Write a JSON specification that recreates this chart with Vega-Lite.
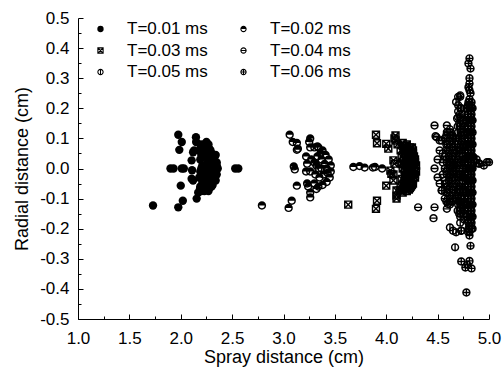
{
  "$schema": "https://vega.github.io/schema/vega-lite/v6.json",
  "width": 411,
  "height": 301,
  "autosize": "none",
  "padding": {"left": 78, "top": 18, "right": 14, "bottom": 49},
  "background": "white",
  "config": {"font": "Liberation Sans", "view": {"stroke": null}},
  "data": {"values": [
    {"T": 0.01, "x": 1.73, "y": -0.123}, {"T": 0.01, "x": 1.90, "y": 0.0}, {"T": 0.01, "x": 1.93, "y": 0.0},
    {"T": 0.01, "x": 1.976, "y": 0.112}, {"T": 0.01, "x": 2.01, "y": 0.088}, {"T": 0.01, "x": 1.986, "y": 0.062},
    {"T": 0.01, "x": 2.01, "y": 0.0}, {"T": 0.01, "x": 2.03, "y": 0.0}, {"T": 0.01, "x": 2.0, "y": -0.057},
    {"T": 0.01, "x": 2.02, "y": -0.107}, {"T": 0.01, "x": 1.976, "y": -0.129}, {"T": 0.01, "x": 2.148, "y": 0.104},
    {"T": 0.01, "x": 2.15, "y": 0.088}, {"T": 0.01, "x": 2.12, "y": 0.054}, {"T": 0.01, "x": 2.13, "y": 0.06},
    {"T": 0.01, "x": 2.106, "y": 0.027}, {"T": 0.01, "x": 2.11, "y": -0.006}, {"T": 0.01, "x": 2.106, "y": -0.034},
    {"T": 0.01, "x": 2.12, "y": -0.04}, {"T": 0.01, "x": 2.187, "y": -0.068}, {"T": 0.01, "x": 2.17, "y": -0.08},
    {"T": 0.01, "x": 2.155, "y": -0.10}, {"T": 0.01, "x": 2.53, "y": 0.0}, {"T": 0.01, "x": 2.56, "y": 0.0},
    {"T": 0.01, "x": 2.25, "y": 0.088},
    {"T": 0.01, "x": 2.20, "y": 0.07}, {"T": 0.01, "x": 2.24, "y": 0.075}, {"T": 0.01, "x": 2.28, "y": 0.065},
    {"T": 0.01, "x": 2.30, "y": 0.05}, {"T": 0.01, "x": 2.33, "y": 0.04}, {"T": 0.01, "x": 2.35, "y": 0.02},
    {"T": 0.01, "x": 2.36, "y": 0.0}, {"T": 0.01, "x": 2.35, "y": -0.02}, {"T": 0.01, "x": 2.34, "y": -0.04},
    {"T": 0.01, "x": 2.31, "y": -0.055}, {"T": 0.01, "x": 2.28, "y": -0.065}, {"T": 0.01, "x": 2.25, "y": -0.07},
    {"T": 0.01, "x": 2.22, "y": -0.06}, {"T": 0.01, "x": 2.22, "y": 0.05}, {"T": 0.01, "x": 2.25, "y": 0.04},
    {"T": 0.01, "x": 2.28, "y": 0.03}, {"T": 0.01, "x": 2.31, "y": 0.02}, {"T": 0.01, "x": 2.33, "y": 0.0},
    {"T": 0.01, "x": 2.31, "y": -0.02}, {"T": 0.01, "x": 2.28, "y": -0.03}, {"T": 0.01, "x": 2.25, "y": -0.04},
    {"T": 0.01, "x": 2.22, "y": -0.02}, {"T": 0.01, "x": 2.20, "y": 0.0}, {"T": 0.01, "x": 2.24, "y": 0.0},
    {"T": 0.01, "x": 2.27, "y": 0.0}, {"T": 0.01, "x": 2.30, "y": 0.0}, {"T": 0.01, "x": 2.19, "y": 0.03},
    {"T": 0.01, "x": 2.18, "y": -0.03}, {"T": 0.01, "x": 2.26, "y": 0.02}, {"T": 0.01, "x": 2.29, "y": -0.01},
    {"T": 0.01, "x": 2.23, "y": -0.05}, {"T": 0.01, "x": 2.32, "y": 0.03}, {"T": 0.01, "x": 2.32, "y": -0.03},
    {"T": 0.01, "x": 2.19, "y": 0.08}, {"T": 0.01, "x": 2.22, "y": 0.08}, {"T": 0.01, "x": 2.27, "y": 0.08},
    {"T": 0.01, "x": 2.18, "y": 0.06}, {"T": 0.01, "x": 2.21, "y": 0.06}, {"T": 0.01, "x": 2.26, "y": 0.06},
    {"T": 0.01, "x": 2.29, "y": 0.06}, {"T": 0.01, "x": 2.20, "y": 0.045}, {"T": 0.01, "x": 2.27, "y": 0.045},
    {"T": 0.01, "x": 2.34, "y": 0.045}, {"T": 0.01, "x": 2.21, "y": 0.01}, {"T": 0.01, "x": 2.26, "y": 0.01},
    {"T": 0.01, "x": 2.32, "y": 0.01}, {"T": 0.01, "x": 2.35, "y": 0.01}, {"T": 0.01, "x": 2.19, "y": -0.01},
    {"T": 0.01, "x": 2.23, "y": -0.01}, {"T": 0.01, "x": 2.33, "y": -0.01}, {"T": 0.01, "x": 2.21, "y": -0.045},
    {"T": 0.01, "x": 2.27, "y": -0.045}, {"T": 0.01, "x": 2.30, "y": -0.045}, {"T": 0.01, "x": 2.19, "y": -0.06},
    {"T": 0.01, "x": 2.26, "y": -0.06}, {"T": 0.01, "x": 2.30, "y": -0.06}, {"T": 0.01, "x": 2.20, "y": -0.075},
    {"T": 0.01, "x": 2.23, "y": -0.075}, {"T": 0.01, "x": 2.27, "y": -0.075},

    {"T": 0.02, "x": 2.79, "y": -0.123}, {"T": 0.02, "x": 3.06, "y": 0.112}, {"T": 0.02, "x": 3.09, "y": 0.088},
    {"T": 0.02, "x": 3.13, "y": 0.085}, {"T": 0.02, "x": 3.13, "y": 0.062}, {"T": 0.02, "x": 3.14, "y": 0.066},
    {"T": 0.02, "x": 3.10, "y": 0.007}, {"T": 0.02, "x": 3.11, "y": -0.003}, {"T": 0.02, "x": 3.13, "y": -0.057},
    {"T": 0.02, "x": 3.08, "y": -0.107}, {"T": 0.02, "x": 3.05, "y": -0.131}, {"T": 0.02, "x": 3.26, "y": 0.10},
    {"T": 0.02, "x": 3.25, "y": 0.088}, {"T": 0.02, "x": 3.26, "y": 0.07}, {"T": 0.02, "x": 3.22, "y": 0.04},
    {"T": 0.02, "x": 3.27, "y": 0.03}, {"T": 0.02, "x": 3.23, "y": 0.016}, {"T": 0.02, "x": 3.22, "y": -0.01},
    {"T": 0.02, "x": 3.26, "y": -0.01}, {"T": 0.02, "x": 3.23, "y": -0.05}, {"T": 0.02, "x": 3.24, "y": -0.06},
    {"T": 0.02, "x": 3.26, "y": -0.08}, {"T": 0.02, "x": 3.26, "y": -0.096}, {"T": 0.02, "x": 3.32, "y": -0.068},
    {"T": 0.02, "x": 3.32, "y": 0.01}, {"T": 0.02, "x": 3.33, "y": 0.073}, {"T": 0.02, "x": 3.68, "y": 0.005},
    {"T": 0.02, "x": 3.74, "y": 0.008}, {"T": 0.02, "x": 3.79, "y": 0.003}, {"T": 0.02, "x": 3.87, "y": 0.003},
    {"T": 0.02, "x": 3.89, "y": 0.005}, {"T": 0.02, "x": 3.96, "y": 0.0},
    {"T": 0.02, "x": 3.30, "y": 0.07}, {"T": 0.02, "x": 3.34, "y": 0.07}, {"T": 0.02, "x": 3.38, "y": 0.06},
    {"T": 0.02, "x": 3.41, "y": 0.045}, {"T": 0.02, "x": 3.44, "y": 0.03}, {"T": 0.02, "x": 3.46, "y": 0.01},
    {"T": 0.02, "x": 3.46, "y": -0.01}, {"T": 0.02, "x": 3.45, "y": -0.03}, {"T": 0.02, "x": 3.42, "y": -0.045},
    {"T": 0.02, "x": 3.38, "y": -0.055}, {"T": 0.02, "x": 3.34, "y": -0.06}, {"T": 0.02, "x": 3.30, "y": -0.05},
    {"T": 0.02, "x": 3.33, "y": 0.04}, {"T": 0.02, "x": 3.37, "y": 0.03}, {"T": 0.02, "x": 3.40, "y": 0.015},
    {"T": 0.02, "x": 3.42, "y": 0.0}, {"T": 0.02, "x": 3.39, "y": -0.02}, {"T": 0.02, "x": 3.35, "y": -0.03},
    {"T": 0.02, "x": 3.31, "y": -0.02}, {"T": 0.02, "x": 3.30, "y": 0.02}, {"T": 0.02, "x": 3.34, "y": 0.0},
    {"T": 0.02, "x": 3.37, "y": 0.0}, {"T": 0.02, "x": 3.36, "y": 0.05}, {"T": 0.02, "x": 3.43, "y": -0.015},

    {"T": 0.03, "x": 3.63, "y": -0.12}, {"T": 0.03, "x": 3.90, "y": 0.112}, {"T": 0.03, "x": 3.91, "y": 0.084},
    {"T": 0.03, "x": 4.0, "y": 0.082}, {"T": 0.03, "x": 4.02, "y": 0.066}, {"T": 0.03, "x": 3.91, "y": -0.107},
    {"T": 0.03, "x": 3.90, "y": -0.134}, {"T": 0.03, "x": 4.0, "y": -0.057}, {"T": 0.03, "x": 4.04, "y": -0.007},
    {"T": 0.03, "x": 4.05, "y": -0.018}, {"T": 0.03, "x": 4.07, "y": 0.027}, {"T": 0.03, "x": 4.08, "y": 0.016},
    {"T": 0.03, "x": 4.07, "y": -0.02}, {"T": 0.03, "x": 4.07, "y": -0.04}, {"T": 0.03, "x": 4.10, "y": -0.073},
    {"T": 0.03, "x": 4.13, "y": -0.073}, {"T": 0.03, "x": 4.10, "y": -0.09}, {"T": 0.03, "x": 4.10, "y": -0.10},
    {"T": 0.03, "x": 4.09, "y": 0.11}, {"T": 0.03, "x": 4.09, "y": 0.093}, {"T": 0.03, "x": 4.08, "y": 0.10},
    {"T": 0.03, "x": 4.11, "y": 0.08},
    {"T": 0.03, "x": 4.16, "y": 0.085}, {"T": 0.03, "x": 4.20, "y": 0.08}, {"T": 0.03, "x": 4.23, "y": 0.07},
    {"T": 0.03, "x": 4.26, "y": 0.05}, {"T": 0.03, "x": 4.28, "y": 0.03}, {"T": 0.03, "x": 4.29, "y": 0.01},
    {"T": 0.03, "x": 4.29, "y": -0.01}, {"T": 0.03, "x": 4.28, "y": -0.03}, {"T": 0.03, "x": 4.26, "y": -0.05},
    {"T": 0.03, "x": 4.23, "y": -0.065}, {"T": 0.03, "x": 4.20, "y": -0.075}, {"T": 0.03, "x": 4.16, "y": -0.08},
    {"T": 0.03, "x": 4.18, "y": 0.05}, {"T": 0.03, "x": 4.21, "y": 0.04}, {"T": 0.03, "x": 4.24, "y": 0.02},
    {"T": 0.03, "x": 4.25, "y": 0.0}, {"T": 0.03, "x": 4.23, "y": -0.02}, {"T": 0.03, "x": 4.20, "y": -0.04},
    {"T": 0.03, "x": 4.17, "y": -0.05}, {"T": 0.03, "x": 4.16, "y": 0.0}, {"T": 0.03, "x": 4.19, "y": 0.01},
    {"T": 0.03, "x": 4.21, "y": -0.01}, {"T": 0.03, "x": 4.17, "y": 0.03}, {"T": 0.03, "x": 4.18, "y": -0.02},
    {"T": 0.03, "x": 4.14, "y": 0.06}, {"T": 0.03, "x": 4.14, "y": -0.06},
    {"T": 0.03, "x": 4.18, "y": 0.07}, {"T": 0.03, "x": 4.25, "y": 0.07}, {"T": 0.03, "x": 4.17, "y": 0.06},
    {"T": 0.03, "x": 4.22, "y": 0.06}, {"T": 0.03, "x": 4.26, "y": 0.06}, {"T": 0.03, "x": 4.15, "y": 0.04},
    {"T": 0.03, "x": 4.24, "y": 0.04}, {"T": 0.03, "x": 4.27, "y": 0.04}, {"T": 0.03, "x": 4.15, "y": 0.015},
    {"T": 0.03, "x": 4.22, "y": 0.015}, {"T": 0.03, "x": 4.27, "y": 0.015}, {"T": 0.03, "x": 4.18, "y": -0.005},
    {"T": 0.03, "x": 4.23, "y": -0.005}, {"T": 0.03, "x": 4.27, "y": -0.005}, {"T": 0.03, "x": 4.15, "y": -0.035},
    {"T": 0.03, "x": 4.22, "y": -0.035}, {"T": 0.03, "x": 4.26, "y": -0.035}, {"T": 0.03, "x": 4.18, "y": -0.06},
    {"T": 0.03, "x": 4.24, "y": -0.06}, {"T": 0.03, "x": 4.15, "y": -0.07}, {"T": 0.03, "x": 4.22, "y": -0.07},
    {"T": 0.03, "x": 4.20, "y": 0.06}, {"T": 0.03, "x": 4.20, "y": 0.02}, {"T": 0.03, "x": 4.20, "y": -0.02},
    {"T": 0.03, "x": 4.20, "y": -0.06}, {"T": 0.03, "x": 4.26, "y": 0.02}, {"T": 0.03, "x": 4.26, "y": -0.02},
    {"T": 0.03, "x": 4.24, "y": -0.045},
    {"T": 0.03, "x": 4.19, "y": 0.075}, {"T": 0.03, "x": 4.19, "y": 0.045}, {"T": 0.03, "x": 4.19, "y": 0.025},
    {"T": 0.03, "x": 4.19, "y": -0.025}, {"T": 0.03, "x": 4.19, "y": -0.045}, {"T": 0.03, "x": 4.19, "y": -0.065},
    {"T": 0.03, "x": 4.22, "y": 0.05}, {"T": 0.03, "x": 4.22, "y": 0.03}, {"T": 0.03, "x": 4.22, "y": 0.0},
    {"T": 0.03, "x": 4.22, "y": -0.05}, {"T": 0.03, "x": 4.25, "y": 0.055}, {"T": 0.03, "x": 4.25, "y": 0.03},
    {"T": 0.03, "x": 4.25, "y": -0.015}, {"T": 0.03, "x": 4.25, "y": -0.055}, {"T": 0.03, "x": 4.28, "y": 0.02},
    {"T": 0.03, "x": 4.28, "y": -0.02}, {"T": 0.03, "x": 4.17, "y": 0.075}, {"T": 0.03, "x": 4.17, "y": 0.015},
    {"T": 0.03, "x": 4.17, "y": -0.065},

    {"T": 0.04, "x": 4.31, "y": -0.129}, {"T": 0.04, "x": 4.47, "y": 0.143}, {"T": 0.04, "x": 4.48, "y": 0.107},
    {"T": 0.04, "x": 4.49, "y": 0.104}, {"T": 0.04, "x": 4.52, "y": 0.093}, {"T": 0.04, "x": 4.54, "y": -0.073},
    {"T": 0.04, "x": 4.47, "y": -0.129}, {"T": 0.04, "x": 4.46, "y": -0.165}, {"T": 0.04, "x": 4.57, "y": -0.051},
    {"T": 0.04, "x": 4.59, "y": -0.134}, {"T": 0.04, "x": 4.60, "y": -0.118}, {"T": 0.04, "x": 4.59, "y": 0.143},
    {"T": 0.04, "x": 4.59, "y": 0.121}, {"T": 0.04, "x": 4.54, "y": 0.093}, {"T": 0.04, "x": 4.60, "y": 0.10},
    {"T": 0.04, "x": 4.47, "y": 0.0}, {"T": 0.04, "x": 4.50, "y": 0.03}, {"T": 0.04, "x": 4.50, "y": -0.03},
    {"T": 0.04, "x": 4.52, "y": 0.06}, {"T": 0.04, "x": 4.52, "y": -0.05},
    {"T": 0.04, "x": 4.62, "y": 0.13}, {"T": 0.04, "x": 4.63, "y": 0.11}, {"T": 0.04, "x": 4.64, "y": 0.09},
    {"T": 0.04, "x": 4.65, "y": 0.07}, {"T": 0.04, "x": 4.66, "y": 0.05}, {"T": 0.04, "x": 4.66, "y": 0.03},
    {"T": 0.04, "x": 4.66, "y": 0.01}, {"T": 0.04, "x": 4.66, "y": -0.01}, {"T": 0.04, "x": 4.66, "y": -0.03},
    {"T": 0.04, "x": 4.66, "y": -0.05}, {"T": 0.04, "x": 4.65, "y": -0.07}, {"T": 0.04, "x": 4.64, "y": -0.09},
    {"T": 0.04, "x": 4.63, "y": -0.11}, {"T": 0.04, "x": 4.62, "y": -0.12}, {"T": 0.04, "x": 4.60, "y": 0.08},
    {"T": 0.04, "x": 4.61, "y": 0.04}, {"T": 0.04, "x": 4.62, "y": 0.0}, {"T": 0.04, "x": 4.61, "y": -0.04},
    {"T": 0.04, "x": 4.60, "y": -0.08}, {"T": 0.04, "x": 4.58, "y": 0.06}, {"T": 0.04, "x": 4.59, "y": 0.02},
    {"T": 0.04, "x": 4.59, "y": -0.02}, {"T": 0.04, "x": 4.58, "y": -0.06},
    {"T": 0.04, "x": 4.57, "y": 0.10}, {"T": 0.04, "x": 4.57, "y": 0.04}, {"T": 0.04, "x": 4.57, "y": 0.0},
    {"T": 0.04, "x": 4.57, "y": -0.04}, {"T": 0.04, "x": 4.57, "y": -0.10}, {"T": 0.04, "x": 4.60, "y": 0.12},
    {"T": 0.04, "x": 4.60, "y": 0.06}, {"T": 0.04, "x": 4.60, "y": 0.0}, {"T": 0.04, "x": 4.60, "y": -0.06},
    {"T": 0.04, "x": 4.60, "y": -0.10}, {"T": 0.04, "x": 4.63, "y": 0.12}, {"T": 0.04, "x": 4.63, "y": 0.08},
    {"T": 0.04, "x": 4.63, "y": 0.05}, {"T": 0.04, "x": 4.63, "y": 0.02}, {"T": 0.04, "x": 4.63, "y": -0.02},
    {"T": 0.04, "x": 4.63, "y": -0.05}, {"T": 0.04, "x": 4.63, "y": -0.08}, {"T": 0.04, "x": 4.64, "y": 0.0},
    {"T": 0.04, "x": 4.64, "y": 0.03}, {"T": 0.04, "x": 4.64, "y": -0.03}, {"T": 0.04, "x": 4.55, "y": 0.02},
    {"T": 0.04, "x": 4.55, "y": -0.02},
    {"T": 0.04, "x": 4.65, "y": 0.10}, {"T": 0.04, "x": 4.65, "y": 0.06}, {"T": 0.04, "x": 4.65, "y": 0.02},
    {"T": 0.04, "x": 4.65, "y": -0.02}, {"T": 0.04, "x": 4.65, "y": -0.06}, {"T": 0.04, "x": 4.65, "y": -0.10},
    {"T": 0.04, "x": 4.62, "y": 0.10}, {"T": 0.04, "x": 4.62, "y": 0.06}, {"T": 0.04, "x": 4.62, "y": 0.02},
    {"T": 0.04, "x": 4.62, "y": -0.02}, {"T": 0.04, "x": 4.62, "y": -0.06}, {"T": 0.04, "x": 4.62, "y": -0.10},
    {"T": 0.04, "x": 4.585, "y": 0.11}, {"T": 0.04, "x": 4.585, "y": 0.08}, {"T": 0.04, "x": 4.585, "y": 0.03},
    {"T": 0.04, "x": 4.585, "y": -0.01}, {"T": 0.04, "x": 4.585, "y": -0.05}, {"T": 0.04, "x": 4.585, "y": -0.08},
    {"T": 0.04, "x": 4.585, "y": -0.11}, {"T": 0.04, "x": 4.615, "y": 0.12}, {"T": 0.04, "x": 4.615, "y": 0.09},
    {"T": 0.04, "x": 4.615, "y": 0.07}, {"T": 0.04, "x": 4.615, "y": 0.03}, {"T": 0.04, "x": 4.615, "y": 0.01},
    {"T": 0.04, "x": 4.615, "y": -0.03}, {"T": 0.04, "x": 4.615, "y": -0.07}, {"T": 0.04, "x": 4.615, "y": -0.09},
    {"T": 0.04, "x": 4.615, "y": -0.11}, {"T": 0.04, "x": 4.645, "y": 0.11}, {"T": 0.04, "x": 4.645, "y": 0.07},
    {"T": 0.04, "x": 4.645, "y": 0.04}, {"T": 0.04, "x": 4.645, "y": 0.01}, {"T": 0.04, "x": 4.645, "y": -0.01},
    {"T": 0.04, "x": 4.645, "y": -0.04}, {"T": 0.04, "x": 4.645, "y": -0.07}, {"T": 0.04, "x": 4.645, "y": -0.11},

    {"T": 0.05, "x": 4.62, "y": -0.196}, {"T": 0.05, "x": 4.65, "y": -0.207}, {"T": 0.05, "x": 4.68, "y": -0.212},
    {"T": 0.05, "x": 4.67, "y": -0.262}, {"T": 0.05, "x": 4.72, "y": -0.118}, {"T": 0.05, "x": 4.72, "y": -0.079},
    {"T": 0.05, "x": 4.72, "y": -0.029}, {"T": 0.05, "x": 4.68, "y": 0.221}, {"T": 0.05, "x": 4.70, "y": 0.238},
    {"T": 0.05, "x": 4.72, "y": 0.243}, {"T": 0.05, "x": 4.69, "y": 0.166}, {"T": 0.05, "x": 4.72, "y": 0.17},
    {"T": 0.05, "x": 4.73, "y": 0.20}, {"T": 0.05, "x": 4.73, "y": -0.207}, {"T": 0.05, "x": 4.54, "y": -0.073},
    {"T": 0.05, "x": 4.55, "y": 0.05},
    {"T": 0.05, "x": 4.71, "y": 0.15}, {"T": 0.05, "x": 4.72, "y": 0.13}, {"T": 0.05, "x": 4.73, "y": 0.11},
    {"T": 0.05, "x": 4.73, "y": 0.09}, {"T": 0.05, "x": 4.74, "y": 0.07}, {"T": 0.05, "x": 4.74, "y": 0.05},
    {"T": 0.05, "x": 4.74, "y": 0.03}, {"T": 0.05, "x": 4.74, "y": 0.01}, {"T": 0.05, "x": 4.74, "y": -0.01},
    {"T": 0.05, "x": 4.74, "y": -0.03}, {"T": 0.05, "x": 4.74, "y": -0.05}, {"T": 0.05, "x": 4.74, "y": -0.07},
    {"T": 0.05, "x": 4.73, "y": -0.09}, {"T": 0.05, "x": 4.73, "y": -0.11}, {"T": 0.05, "x": 4.72, "y": -0.13},
    {"T": 0.05, "x": 4.71, "y": -0.15}, {"T": 0.05, "x": 4.71, "y": 0.06}, {"T": 0.05, "x": 4.71, "y": 0.0},
    {"T": 0.05, "x": 4.71, "y": -0.06},
    {"T": 0.05, "x": 4.70, "y": 0.21}, {"T": 0.05, "x": 4.70, "y": 0.19}, {"T": 0.05, "x": 4.70, "y": 0.17},
    {"T": 0.05, "x": 4.70, "y": 0.12}, {"T": 0.05, "x": 4.70, "y": 0.09}, {"T": 0.05, "x": 4.70, "y": 0.03},
    {"T": 0.05, "x": 4.70, "y": -0.03}, {"T": 0.05, "x": 4.70, "y": -0.09}, {"T": 0.05, "x": 4.70, "y": -0.12},
    {"T": 0.05, "x": 4.76, "y": 0.18}, {"T": 0.05, "x": 4.76, "y": 0.14}, {"T": 0.05, "x": 4.76, "y": 0.10},
    {"T": 0.05, "x": 4.76, "y": 0.06}, {"T": 0.05, "x": 4.76, "y": 0.02}, {"T": 0.05, "x": 4.76, "y": -0.02},
    {"T": 0.05, "x": 4.76, "y": -0.06}, {"T": 0.05, "x": 4.76, "y": -0.10}, {"T": 0.05, "x": 4.76, "y": -0.14},
    {"T": 0.05, "x": 4.76, "y": -0.17}, {"T": 0.05, "x": 4.68, "y": 0.10}, {"T": 0.05, "x": 4.68, "y": 0.05},
    {"T": 0.05, "x": 4.68, "y": 0.0}, {"T": 0.05, "x": 4.68, "y": -0.05}, {"T": 0.05, "x": 4.68, "y": -0.10},
    {"T": 0.05, "x": 4.72, "y": 0.20}, {"T": 0.05, "x": 4.72, "y": -0.18}, {"T": 0.05, "x": 4.72, "y": -0.16},
    {"T": 0.05, "x": 4.745, "y": 0.16}, {"T": 0.05, "x": 4.745, "y": 0.12}, {"T": 0.05, "x": 4.745, "y": 0.08},
    {"T": 0.05, "x": 4.745, "y": 0.04}, {"T": 0.05, "x": 4.745, "y": 0.0}, {"T": 0.05, "x": 4.745, "y": -0.04},
    {"T": 0.05, "x": 4.745, "y": -0.08}, {"T": 0.05, "x": 4.745, "y": -0.12}, {"T": 0.05, "x": 4.715, "y": 0.18},
    {"T": 0.05, "x": 4.715, "y": 0.14}, {"T": 0.05, "x": 4.715, "y": 0.10}, {"T": 0.05, "x": 4.715, "y": 0.04},
    {"T": 0.05, "x": 4.715, "y": -0.02}, {"T": 0.05, "x": 4.715, "y": -0.08}, {"T": 0.05, "x": 4.715, "y": -0.11},
    {"T": 0.05, "x": 4.715, "y": -0.14},
    {"T": 0.05, "x": 4.725, "y": 0.16}, {"T": 0.05, "x": 4.725, "y": 0.12}, {"T": 0.05, "x": 4.725, "y": 0.08},
    {"T": 0.05, "x": 4.725, "y": 0.06}, {"T": 0.05, "x": 4.725, "y": 0.02}, {"T": 0.05, "x": 4.725, "y": -0.02},
    {"T": 0.05, "x": 4.725, "y": -0.06}, {"T": 0.05, "x": 4.725, "y": -0.10}, {"T": 0.05, "x": 4.725, "y": -0.12},
    {"T": 0.05, "x": 4.725, "y": -0.15}, {"T": 0.05, "x": 4.755, "y": 0.15}, {"T": 0.05, "x": 4.755, "y": 0.11},
    {"T": 0.05, "x": 4.755, "y": 0.07}, {"T": 0.05, "x": 4.755, "y": 0.03}, {"T": 0.05, "x": 4.755, "y": -0.03},
    {"T": 0.05, "x": 4.755, "y": -0.07}, {"T": 0.05, "x": 4.755, "y": -0.11}, {"T": 0.05, "x": 4.755, "y": -0.15},
    {"T": 0.05, "x": 4.695, "y": 0.14}, {"T": 0.05, "x": 4.695, "y": 0.07}, {"T": 0.05, "x": 4.695, "y": 0.01},
    {"T": 0.05, "x": 4.695, "y": -0.07}, {"T": 0.05, "x": 4.695, "y": -0.14},

    {"T": 0.06, "x": 4.81, "y": 0.366}, {"T": 0.06, "x": 4.80, "y": 0.349}, {"T": 0.06, "x": 4.82, "y": 0.332},
    {"T": 0.06, "x": 4.81, "y": 0.282}, {"T": 0.06, "x": 4.81, "y": 0.26}, {"T": 0.06, "x": 4.82, "y": 0.25},
    {"T": 0.06, "x": 4.72, "y": 0.238}, {"T": 0.06, "x": 4.78, "y": -0.412}, {"T": 0.06, "x": 4.73, "y": -0.309},
    {"T": 0.06, "x": 4.81, "y": -0.307}, {"T": 0.06, "x": 4.77, "y": -0.329}, {"T": 0.06, "x": 4.83, "y": -0.332},
    {"T": 0.06, "x": 4.79, "y": -0.32}, {"T": 0.06, "x": 4.82, "y": -0.257}, {"T": 0.06, "x": 4.73, "y": -0.207},
    {"T": 0.06, "x": 4.81, "y": -0.223}, {"T": 0.06, "x": 4.85, "y": 0.038}, {"T": 0.06, "x": 4.91, "y": 0.016},
    {"T": 0.06, "x": 4.98, "y": 0.021}, {"T": 0.06, "x": 4.90, "y": 0.016}, {"T": 0.06, "x": 4.95, "y": 0.01},
    {"T": 0.06, "x": 5.0, "y": 0.021}, {"T": 0.06, "x": 4.88, "y": 0.03},
    {"T": 0.06, "x": 4.81, "y": 0.23}, {"T": 0.06, "x": 4.81, "y": 0.21}, {"T": 0.06, "x": 4.82, "y": 0.19},
    {"T": 0.06, "x": 4.82, "y": 0.17}, {"T": 0.06, "x": 4.82, "y": 0.15}, {"T": 0.06, "x": 4.82, "y": 0.13},
    {"T": 0.06, "x": 4.82, "y": 0.11}, {"T": 0.06, "x": 4.82, "y": 0.09}, {"T": 0.06, "x": 4.82, "y": 0.07},
    {"T": 0.06, "x": 4.82, "y": 0.05}, {"T": 0.06, "x": 4.82, "y": 0.03}, {"T": 0.06, "x": 4.82, "y": 0.01},
    {"T": 0.06, "x": 4.82, "y": -0.01}, {"T": 0.06, "x": 4.82, "y": -0.03}, {"T": 0.06, "x": 4.82, "y": -0.05},
    {"T": 0.06, "x": 4.82, "y": -0.07}, {"T": 0.06, "x": 4.82, "y": -0.09}, {"T": 0.06, "x": 4.82, "y": -0.11},
    {"T": 0.06, "x": 4.82, "y": -0.13}, {"T": 0.06, "x": 4.82, "y": -0.15}, {"T": 0.06, "x": 4.82, "y": -0.17},
    {"T": 0.06, "x": 4.81, "y": -0.19}, {"T": 0.06, "x": 4.81, "y": -0.21}, {"T": 0.06, "x": 4.79, "y": 0.12},
    {"T": 0.06, "x": 4.79, "y": 0.04}, {"T": 0.06, "x": 4.79, "y": -0.04}, {"T": 0.06, "x": 4.79, "y": -0.12},
    {"T": 0.06, "x": 4.84, "y": 0.08}, {"T": 0.06, "x": 4.84, "y": 0.0}, {"T": 0.06, "x": 4.84, "y": -0.08},
    {"T": 0.06, "x": 4.80, "y": 0.22}, {"T": 0.06, "x": 4.80, "y": 0.18}, {"T": 0.06, "x": 4.80, "y": 0.14},
    {"T": 0.06, "x": 4.80, "y": 0.10}, {"T": 0.06, "x": 4.80, "y": 0.06}, {"T": 0.06, "x": 4.80, "y": 0.02},
    {"T": 0.06, "x": 4.80, "y": -0.02}, {"T": 0.06, "x": 4.80, "y": -0.06}, {"T": 0.06, "x": 4.80, "y": -0.10},
    {"T": 0.06, "x": 4.80, "y": -0.14}, {"T": 0.06, "x": 4.80, "y": -0.18}, {"T": 0.06, "x": 4.80, "y": -0.20},
    {"T": 0.06, "x": 4.84, "y": 0.20}, {"T": 0.06, "x": 4.84, "y": 0.16}, {"T": 0.06, "x": 4.84, "y": 0.12},
    {"T": 0.06, "x": 4.84, "y": 0.04}, {"T": 0.06, "x": 4.84, "y": -0.04}, {"T": 0.06, "x": 4.84, "y": -0.12},
    {"T": 0.06, "x": 4.84, "y": -0.16}, {"T": 0.06, "x": 4.84, "y": -0.20}, {"T": 0.06, "x": 4.78, "y": 0.20},
    {"T": 0.06, "x": 4.78, "y": 0.16}, {"T": 0.06, "x": 4.78, "y": 0.08}, {"T": 0.06, "x": 4.78, "y": 0.0},
    {"T": 0.06, "x": 4.78, "y": -0.08}, {"T": 0.06, "x": 4.78, "y": -0.16}, {"T": 0.06, "x": 4.81, "y": 0.30},
    {"T": 0.06, "x": 4.80, "y": 0.27},
    {"T": 0.06, "x": 4.83, "y": 0.22}, {"T": 0.06, "x": 4.83, "y": 0.20}, {"T": 0.06, "x": 4.83, "y": 0.18},
    {"T": 0.06, "x": 4.83, "y": 0.16}, {"T": 0.06, "x": 4.83, "y": 0.14}, {"T": 0.06, "x": 4.83, "y": 0.12},
    {"T": 0.06, "x": 4.83, "y": 0.10}, {"T": 0.06, "x": 4.83, "y": 0.08}, {"T": 0.06, "x": 4.83, "y": 0.06},
    {"T": 0.06, "x": 4.83, "y": 0.04}, {"T": 0.06, "x": 4.83, "y": 0.02}, {"T": 0.06, "x": 4.83, "y": 0.0},
    {"T": 0.06, "x": 4.83, "y": -0.02}, {"T": 0.06, "x": 4.83, "y": -0.04}, {"T": 0.06, "x": 4.83, "y": -0.06},
    {"T": 0.06, "x": 4.83, "y": -0.08}, {"T": 0.06, "x": 4.83, "y": -0.10}, {"T": 0.06, "x": 4.83, "y": -0.12},
    {"T": 0.06, "x": 4.83, "y": -0.14}, {"T": 0.06, "x": 4.83, "y": -0.16}, {"T": 0.06, "x": 4.83, "y": -0.18},
    {"T": 0.06, "x": 4.83, "y": -0.20}, {"T": 0.06, "x": 4.81, "y": 0.20}, {"T": 0.06, "x": 4.81, "y": 0.16},
    {"T": 0.06, "x": 4.81, "y": 0.12}, {"T": 0.06, "x": 4.81, "y": 0.08}, {"T": 0.06, "x": 4.81, "y": 0.04},
    {"T": 0.06, "x": 4.81, "y": 0.0}, {"T": 0.06, "x": 4.81, "y": -0.04}, {"T": 0.06, "x": 4.81, "y": -0.08},
    {"T": 0.06, "x": 4.81, "y": -0.12}, {"T": 0.06, "x": 4.81, "y": -0.16},
    {"T": 0.06, "x": 4.795, "y": 0.21}, {"T": 0.06, "x": 4.795, "y": 0.17}, {"T": 0.06, "x": 4.795, "y": 0.13},
    {"T": 0.06, "x": 4.795, "y": 0.09}, {"T": 0.06, "x": 4.795, "y": 0.05}, {"T": 0.06, "x": 4.795, "y": 0.01},
    {"T": 0.06, "x": 4.795, "y": -0.01}, {"T": 0.06, "x": 4.795, "y": -0.05}, {"T": 0.06, "x": 4.795, "y": -0.09},
    {"T": 0.06, "x": 4.795, "y": -0.13}, {"T": 0.06, "x": 4.795, "y": -0.17}, {"T": 0.06, "x": 4.795, "y": -0.21},
    {"T": 0.06, "x": 4.825, "y": 0.21}, {"T": 0.06, "x": 4.825, "y": 0.17}, {"T": 0.06, "x": 4.825, "y": 0.13},
    {"T": 0.06, "x": 4.825, "y": 0.09}, {"T": 0.06, "x": 4.825, "y": 0.05}, {"T": 0.06, "x": 4.825, "y": 0.01},
    {"T": 0.06, "x": 4.825, "y": -0.03}, {"T": 0.06, "x": 4.825, "y": -0.07}, {"T": 0.06, "x": 4.825, "y": -0.11},
    {"T": 0.06, "x": 4.825, "y": -0.15}, {"T": 0.06, "x": 4.825, "y": -0.19}
  ]},
  "layer": [
    {
      "mark": {"type": "point", "opacity": 0},
      "encoding": {
        "x": {"field": "x", "type": "quantitative",
          "scale": {"domain": [1, 5], "nice": false, "zero": false},
          "axis": {"orient": "bottom", "values": [1.25, 1.75, 2.25, 2.75, 3.25, 3.75, 4.25, 4.75],
            "labels": false, "domain": false, "grid": false, "title": null, "tickSize": -3, "tickColor": "black"}},
        "y": {"field": "y", "type": "quantitative",
          "scale": {"domain": [-0.5, 0.5], "nice": false, "zero": false},
          "axis": {"orient": "left", "values": [-0.45, -0.35, -0.25, -0.15, -0.05, 0.05, 0.15, 0.25, 0.35, 0.45],
            "labels": false, "domain": false, "grid": false, "title": null, "tickSize": -3, "tickColor": "black"}}
      }
    },
    {
      "mark": {"type": "point", "filled": true, "color": "black", "opacity": 1, "strokeWidth": 0, "size": 70},
      "encoding": {
        "x": {"field": "x", "type": "quantitative",
          "scale": {"domain": [1, 5], "nice": false, "zero": false},
          "axis": {"orient": "bottom", "values": [1, 1.5, 2, 2.5, 3, 3.5, 4, 4.5, 5], "format": ".1f",
            "grid": false, "tickSize": -5, "tickColor": "black", "domainColor": "black", "labelColor": "black",
            "labelFontSize": 17, "labelPadding": 16, "labelFlush": false,
            "title": "Spray distance (cm)", "titleFontSize": 18, "titleFontWeight": "normal", "titleColor": "black", "titlePadding": 2}},
        "y": {"field": "y", "type": "quantitative",
          "scale": {"domain": [-0.5, 0.5], "nice": false, "zero": false},
          "axis": {"orient": "left", "values": [-0.5, -0.4, -0.3, -0.2, -0.1, 0, 0.1, 0.2, 0.3, 0.4, 0.5], "format": ".1f",
            "labelExpr": "replace(datum.label, '\u2212', '-')",
            "grid": false, "tickSize": -5, "tickColor": "black", "domainColor": "black", "labelColor": "black",
            "labelFontSize": 17, "labelPadding": 14, "labelFlush": false,
            "title": "Radial distance (cm)", "titleFontSize": 18, "titleFontWeight": "normal", "titleColor": "black", "titlePadding": 8}},
        "shape": {"field": "T", "type": "nominal",
          "scale": {"domain": [0.01, 0.03, 0.05, 0.02, 0.04, 0.06],
            "range": [
              "circle",
              "M-1,-1L1,-1L1,1L-1,1ZM-0.66,-0.66L-0.66,0.66L0.66,0.66L0.66,-0.66ZM-0.78,-0.54L-0.54,-0.78L0.78,0.54L0.54,0.78ZM0.54,-0.78L0.78,-0.54L-0.54,0.78L-0.78,0.54Z",
              "M1,0A1,1,0,1,1,-1,0A1,1,0,1,1,1,0ZM0.66,0A0.66,0.66,0,1,0,-0.66,0A0.66,0.66,0,1,0,0.66,0ZM-0.16,-0.75L0.16,-0.75L0.16,0.75L-0.16,0.75Z",
              "M1,0A1,1,0,1,1,-1,0A1,1,0,1,1,1,0ZM0.66,0A0.66,0.66,0,1,0,-0.66,0A0.66,0.66,0,1,0,0.66,0ZM-1,0A1,1,0,0,1,1,0Z",
              "M1,0A1,1,0,1,1,-1,0A1,1,0,1,1,1,0ZM0.66,0A0.66,0.66,0,1,0,-0.66,0A0.66,0.66,0,1,0,0.66,0ZM-0.75,-0.16L0.75,-0.16L0.75,0.16L-0.75,0.16Z",
              "M1,0A1,1,0,1,1,-1,0A1,1,0,1,1,1,0ZM0.66,0A0.66,0.66,0,1,0,-0.66,0A0.66,0.66,0,1,0,0.66,0ZM-0.75,-0.16L0.75,-0.16L0.75,0.16L-0.75,0.16ZM-0.16,-0.75L0.16,-0.75L0.16,0.75L-0.16,0.75Z"
            ]},
          "legend": {"orient": "none", "legendX": 14, "legendY": 1, "columns": 2, "padding": 0,
            "title": null, "labelExpr": "'T=' + datum.label + ' ms'",
            "labelFontSize": 17, "labelColor": "black", "labelOffset": 18, "columnPadding": 27, "rowPadding": 1.5,
            "clipHeight": 20,
            "symbolSize": 40, "symbolFillColor": "black", "symbolStrokeWidth": 0, "symbolOpacity": 1}}
      }
    }
  ],
  "resolve": {"axis": {"x": "independent", "y": "independent"}}
}
